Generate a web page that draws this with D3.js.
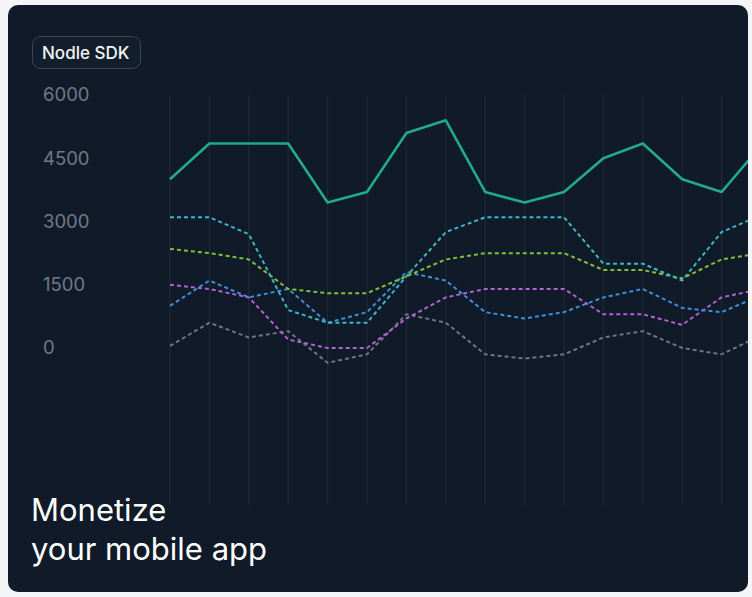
<!DOCTYPE html>
<html><head><meta charset="utf-8">
<script src="https://cdn.jsdelivr.net/npm/d3@7"></script>
<style>
html,body{margin:0;padding:0;background:#f4f5f7;}
svg{display:block;font-family:Inter, "Noto Sans", sans-serif;}
</style></head>
<body>
<svg id="c" width="752" height="597"></svg>
<script>
const points = d3.range(16);
const yTicks = [0, 1500, 3000, 4500, 6000];
const solidGreen = [4000,4850,4850,4850,3450,3700,5100,5400,3700,3450,3700,4500,4850,4000,3700,4800];
const teal   = [3100,3100,2700,900,600,600,1700,2750,3100,3100,3100,2000,2000,1600,2750,3150];
const lime   = [2350,2250,2100,1400,1300,1300,1700,2100,2250,2250,2250,1850,1850,1650,2100,2250];
const blue   = [1000,1600,1200,1400,600,850,1800,1600,850,700,850,1200,1400,950,850,1250];
const purple = [1500,1400,1200,200,0,0,700,1200,1400,1400,1400,800,800,550,1200,1400];
const gray   = [50,600,250,400,-350,-150,800,600,-150,-250,-150,250,400,0,-150,300];
const seriesList = [
  {name:"gray", values:gray, color:"#6d7583", dashed:true},
  {name:"purple", values:purple, color:"#b462d2", dashed:true},
  {name:"blue", values:blue, color:"#3f8fd8", dashed:true},
  {name:"lime", values:lime, color:"#7cc136", dashed:true},
  {name:"teal", values:teal, color:"#3db6c6", dashed:true},
  {name:"green", values:solidGreen, color:"#22ab88", dashed:false}
];

const svg = d3.select("#c");
const card = {x:8, y:5, w:740, h:587};
svg.append("defs").append("clipPath").attr("id","cardclip")
  .append("rect").attr("x",card.x).attr("y",card.y).attr("width",card.w).attr("height",card.h).attr("rx",10);
svg.append("rect").attr("x",card.x).attr("y",card.y).attr("width",card.w).attr("height",card.h)
  .attr("rx",10).attr("fill","#101a28");

const g = svg.append("g").attr("clip-path","url(#cardclip)");

const x = d3.scaleLinear().domain([0,15]).range([170, 761]);
const y = d3.scaleLinear().domain([0,6000]).range([348, 95]);

// vertical grid lines
g.append("g").selectAll("line").data(points).join("line")
  .attr("x1",d=>x(d)).attr("x2",d=>x(d))
  .attr("y1",95).attr("y2",505)
  .attr("stroke","#1e2938").attr("stroke-width",1.2);

// y axis labels
const yAxis = d3.axisLeft(y).tickValues(yTicks).tickFormat(d3.format("d")).tickSize(0).tickPadding(0);
const ya = svg.append("g").attr("transform","translate(43,0)").call(yAxis);
ya.select(".domain").remove();
ya.selectAll("text").attr("text-anchor","start").attr("fill","#6f7a88")
  .attr("font-size",18.5).attr("font-family","Inter, 'Noto Sans', sans-serif");

// lines
seriesList.forEach(s=>{
  const line = d3.line().x((d,i)=>x(i)).y(d=>y(d)).curve(d3.curveLinear);
  g.append("path").datum(s.values).attr("d",line)
    .attr("fill","none").attr("stroke",s.color)
    .attr("stroke-width", s.dashed ? 2 : 2.6)
    .attr("stroke-dasharray", s.dashed ? "4,3" : null)
    .attr("stroke-linejoin","round");
});

// badge
svg.append("rect").attr("x",32.5).attr("y",36.5).attr("width",108).attr("height",32).attr("rx",8)
  .attr("fill","#131e2c").attr("stroke","#3a4555").attr("stroke-width",1);
svg.append("text").attr("x",42).attr("y",59).text("Nodle SDK")
  .attr("fill","#f2f4f7").attr("font-size",17).attr("font-weight",500);

// title
const t = svg.append("text").attr("fill","#ffffff").attr("font-size",31);
t.append("tspan").attr("x",31).attr("y",521).text("Monetize");
t.append("tspan").attr("x",31).attr("y",560).text("your mobile app");
</script>
</body></html>
